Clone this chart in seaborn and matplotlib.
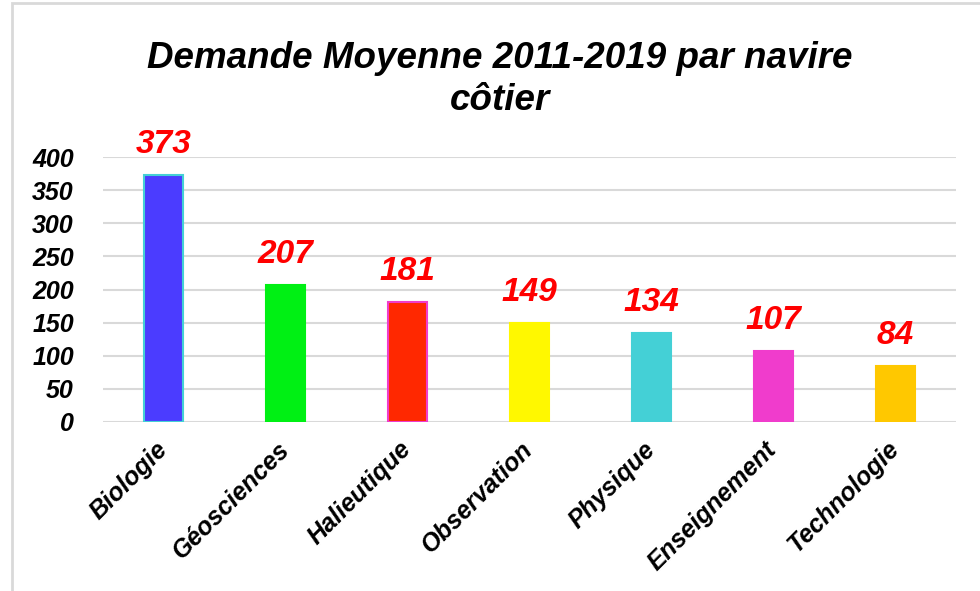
import pandas as pd
import seaborn as sns
import matplotlib.pyplot as plt
from matplotlib.patches import Rectangle

# Demande moyenne 2011-2019 par navire cotier
domaines = ["Biologie", "Géosciences", "Halieutique", "Observation",
            "Physique", "Enseignement", "Technologie"]
demande = [373, 207, 181, 149, 134, 107, 84]
couleurs = ["#4B3CFF", "#00F014", "#FF2800", "#FFF800",
            "#44D0D6", "#F03CCC", "#FFC800"]
bords = ["#44D0D6", "#00F014", "#F03CCC", "#FFF800",
         "#44D0D6", "#F03CCC", "#FFC800"]
yticks = [0, 50, 100, 150, 200, 250, 300, 350, 400]

df = pd.DataFrame({"domaine": domaines, "demande": demande})

sns.set_style("white")
plt.rcParams['font.family'] = ['Liberation Sans', 'DejaVu Sans']
plt.rcParams['text.color'] = 'black'
plt.rcParams['xtick.color'] = 'black'
plt.rcParams['ytick.color'] = 'black'

fig = plt.figure(figsize=(9.8, 5.91), dpi=100)
ax = fig.add_axes([0.105, 0.286, 0.8705, 0.448])

sns.barplot(data=df, x="domaine", y="demande", hue="domaine",
            palette=couleurs, saturation=1, legend=False, width=0.32, ax=ax)

for bar, ec in zip(ax.patches, bords):
    bar.set_edgecolor(ec)
    bar.set_linewidth(1.5)

for i, v in enumerate(demande):
    ax.annotate(str(v), (i, v), xytext=(0, 11), textcoords="offset points",
                ha="center", va="bottom", color="#FF0000", fontsize=24,
                fontweight="bold", fontstyle="italic", annotation_clip=False)

ax.set_ylim(0, 400)
ax.set_yticks(yticks)
ax.set_xlim(-0.5, len(domaines) - 0.5)
ax.grid(axis="y", color="#D9D9D9", linewidth=1.5)
ax.set_axisbelow(True)
sns.despine(ax=ax, left=True, bottom=True, top=True, right=True)
ax.set_xlabel("")
ax.set_ylabel("")
ax.tick_params(axis="y", length=0, pad=21)
ax.tick_params(axis="x", length=0, pad=17)
for lab in ax.get_yticklabels():
    lab.set_fontsize(18)
    lab.set_fontweight("bold")
    lab.set_fontstyle("italic")
ax.set_xticks(range(len(domaines)))
ax.set_xticklabels(domaines, rotation=45, ha="right", va="center",
                   rotation_mode="anchor", fontsize=18,
                   fontweight="bold", fontstyle="italic")

fig.text(0.51, 0.866, "Demande Moyenne 2011-2019 par navire\ncôtier",
         ha="center", va="center", fontsize=26.5, fontweight="bold",
         fontstyle="italic", linespacing=1.25)

# chart frame border, cropped on the right and bottom
fig.patches.append(Rectangle((12 / 980, -0.1), 1.2, 1.1 - 3 / 591,
                             transform=fig.transFigure, fill=False,
                             edgecolor="#D9D9D9", linewidth=2))

fig.savefig("out.png", dpi=100)
